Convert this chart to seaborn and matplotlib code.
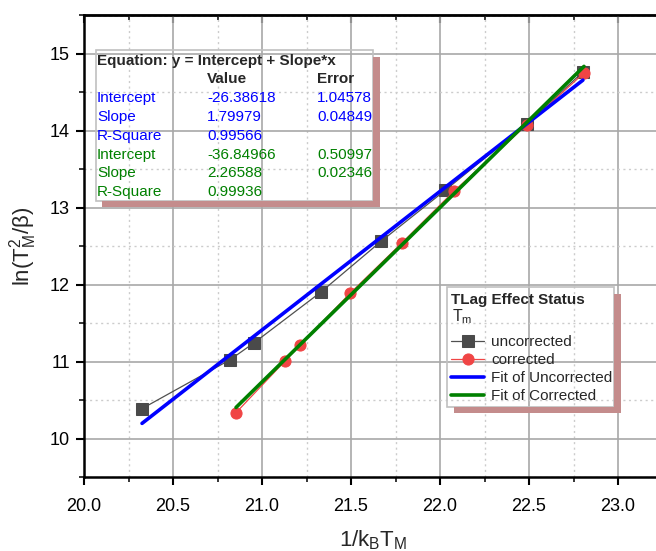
import numpy as np
import pandas as pd
import matplotlib
matplotlib.use("Agg")
import matplotlib.pyplot as plt
import seaborn as sns
from matplotlib.patches import Rectangle
from matplotlib.lines import Line2D
from matplotlib.ticker import MultipleLocator

# ---------------- data ----------------
unc_x = [20.326, 20.820, 20.955, 21.331, 21.669, 22.028, 22.489, 22.803]
unc_y = [10.388, 11.022, 11.242, 11.902, 12.561, 13.221, 14.088, 14.761]
cor_x = [20.854, 21.129, 21.213, 21.494, 21.787, 22.079, 22.489, 22.809]
cor_y = [10.335, 11.006, 11.213, 11.884, 12.542, 13.213, 14.077, 14.748]

series_labels = ["uncorrected", "corrected"]
fit_labels = ["Fit of Uncorrected", "Fit of Corrected"]
intercepts = [-26.38618, -36.84966]
intercept_err = [1.04578, 0.50997]
slopes = [1.79979, 2.26588]
slope_err = [0.04849, 0.02346]
r_squares = [0.99566, 0.99936]

x_ticks = [20.0, 20.5, 21.0, 21.5, 22.0, 22.5, 23.0]
y_ticks = [10, 11, 12, 13, 14, 15]

# ---------------- style ----------------
sns.set_style("ticks")
plt.rcParams['font.family'] = ['Liberation Sans', 'DejaVu Sans']
plt.rcParams['mathtext.default'] = 'regular'

W, H = 656, 551
fig = plt.figure(figsize=(W / 100, H / 100), dpi=100)


def fx(px):
    return px / W


def fy(py):
    return 1 - py / H


PX_PER_X = 178.0
ax = fig.add_axes([fx(84), fy(477), (23.25 - 20.0) * PX_PER_X / W, (477 - 15) / H])

# ---------------- data series ----------------
df_unc = pd.DataFrame({"x": unc_x, "y": unc_y})
df_cor = pd.DataFrame({"x": cor_x, "y": cor_y})

sns.lineplot(data=df_unc, x="x", y="y", ax=ax, sort=False, color="#505050",
             linewidth=0.9, marker="s", markersize=8, markerfacecolor="#4a4a4a",
             markeredgecolor="#4a4a4a", label=series_labels[0], zorder=3)
sns.lineplot(data=df_cor, x="x", y="y", ax=ax, sort=False, color="#f04545",
             linewidth=0.9, marker="o", markersize=8, markerfacecolor="#f04545",
             markeredgecolor="#f04545", label=series_labels[1], zorder=3)

fit_colors = ["#0000ff", "#008000"]
for xs, b, m, lab, col in zip([unc_x, cor_x], intercepts, slopes, fit_labels, fit_colors):
    xf = np.array([min(xs), max(xs)])
    yf = b + m * xf
    sns.lineplot(x=xf, y=yf, ax=ax, color=col, linewidth=2.6, label=lab, zorder=4)

# ---------------- axes ----------------
ax.set_xlim(20.0, 23.25)
ax.set_ylim(9.5, 15.5)
ax.set_xticks(x_ticks)
ax.set_xticklabels([f"{v:.1f}" for v in x_ticks])
ax.set_yticks(y_ticks)
ax.set_yticklabels([str(v) for v in y_ticks])
ax.xaxis.set_minor_locator(MultipleLocator(0.25))
ax.yaxis.set_minor_locator(MultipleLocator(0.5))

ax.grid(which="major", color="#a8a8a8", linewidth=1.2, linestyle="-", zorder=0)
ax.grid(which="minor", color="#cccccc", linewidth=1.0, linestyle=(0, (1.5, 2.5)), zorder=0)
ax.set_axisbelow(True)

for s in ["left", "bottom", "top"]:
    ax.spines[s].set_linewidth(1.8)
    ax.spines[s].set_color("black")
ax.spines["right"].set_visible(False)

ax.tick_params(axis="both", which="major", direction="out", length=6, width=1.5,
               labelsize=13, pad=4, colors="black", top=False, right=False)
ax.tick_params(axis="x", which="major", pad=9)
ax.tick_params(axis="both", which="minor", direction="out", length=3.5, width=1.3,
               top=False, right=False)

secax = ax.secondary_xaxis("top")
secax.xaxis.set_major_locator(MultipleLocator(0.5))
secax.xaxis.set_minor_locator(MultipleLocator(0.25))
secax.tick_params(axis="x", which="major", direction="in", length=6, width=1.5, labeltop=False)
secax.tick_params(axis="x", which="minor", direction="in", length=3.5, width=1.3)
secax.spines["top"].set_linewidth(1.8)

ax.set_xlabel("1/k$_B$T$_M$", fontsize=16, labelpad=10)
ax.set_ylabel("ln(T$_M^2$/β)", fontsize=16, labelpad=8)

# ---------------- legend ----------------
handles, labels = ax.get_legend_handles_labels()
blank = Line2D([], [], linestyle="none")
leg = ax.legend([blank] + handles, ["T$_m$"] + labels, loc="upper left",
                bbox_to_anchor=(fx(447), fy(289)), bbox_transform=fig.transFigure,
                frameon=False, fontsize=11, title="TLag Effect Status",
                title_fontproperties={"weight": "bold", "size": 11},
                alignment="left", borderaxespad=0, borderpad=0.25,
                handlelength=2.2, handletextpad=0.45, labelspacing=0.27)
leg.get_texts()[0].set_alpha(0.0)
leg.get_texts()[0].set_fontsize(14)
leg.set_zorder(10)
fig.text(fx(452), fy(317), "T$_m$", fontsize=11.5, va="center", ha="left", zorder=11)

# legend frame and shadow
fig.add_artist(Rectangle((fx(447), fy(407)), (614 - 447) / W, (407 - 287) / H,
                         transform=fig.transFigure, fill=False, edgecolor="#c0c0c0",
                         linewidth=1.2, zorder=9))
fig.add_artist(Rectangle((fx(614), fy(413)), 7 / W, (413 - 294) / H,
                         transform=fig.transFigure, facecolor="#c48c8c", edgecolor="none",
                         zorder=9))
fig.add_artist(Rectangle((fx(454), fy(413)), (621 - 454) / W, 6 / H,
                         transform=fig.transFigure, facecolor="#c48c8c", edgecolor="none",
                         zorder=9))

# ---------------- fit table ----------------
fig.add_artist(Rectangle((fx(96), fy(201)), (373 - 96) / W, (201 - 50) / H,
                         transform=fig.transFigure, fill=False, edgecolor="#c0c0c0",
                         linewidth=1.2, zorder=9))
fig.add_artist(Rectangle((fx(373), fy(207)), 7 / W, (207 - 57) / H,
                         transform=fig.transFigure, facecolor="#c48c8c", edgecolor="none",
                         zorder=9))
fig.add_artist(Rectangle((fx(102), fy(207)), (380 - 102) / W, 6 / H,
                         transform=fig.transFigure, facecolor="#c48c8c", edgecolor="none",
                         zorder=9))

col_x = [97, 207, 317]
row_y0 = 60.5
row_dy = 18.8
fs = 11
fig.text(fx(col_x[0]), fy(row_y0), "Equation: y = Intercept + Slope*x", fontsize=fs,
         fontweight="bold", va="center", ha="left", zorder=11)
fig.text(fx(col_x[1]), fy(row_y0 + row_dy), "Value", fontsize=fs, fontweight="bold",
         va="center", ha="left", zorder=11)
fig.text(fx(col_x[2]), fy(row_y0 + row_dy), "Error", fontsize=fs, fontweight="bold",
         va="center", ha="left", zorder=11)
row = 2
for i in range(2):
    rows = [("Intercept", f"{intercepts[i]:.5f}", f"{intercept_err[i]:.5f}"),
            ("Slope", f"{slopes[i]:.5f}", f"{slope_err[i]:.5f}"),
            ("R-Square", f"{r_squares[i]:.5f}", "")]
    for name, val, err in rows:
        yy = fy(row_y0 + row * row_dy)
        for cx, t in zip(col_x, (name, val, err)):
            if t:
                fig.text(fx(cx), yy, t, fontsize=fs, color=fit_colors[i],
                         va="center", ha="left", zorder=11)
        row += 1

fig.savefig("out.png", dpi=100)
